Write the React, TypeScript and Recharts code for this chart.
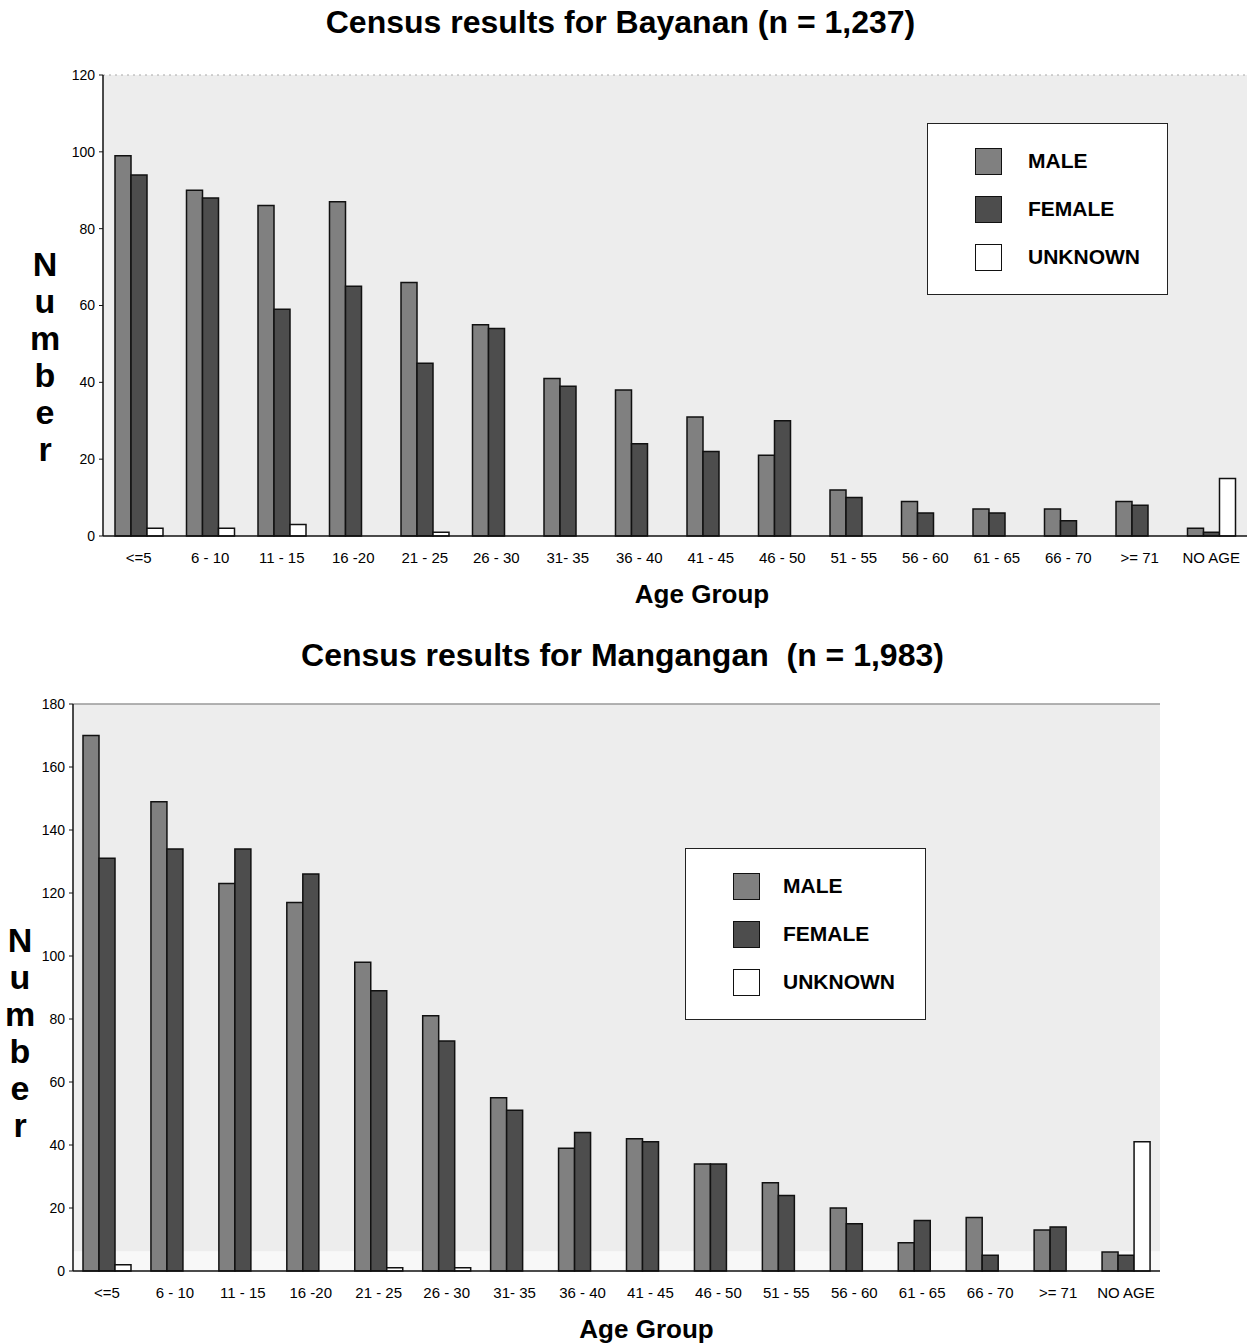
import React from "react";
import {
  BarChart,
  Bar,
  XAxis,
  YAxis,
  CartesianGrid,
  Legend,
  ReferenceLine,
  ReferenceArea,
} from "recharts";

// age groups, shared by both censuses
const ageGroups = [
  "<=5", "6 - 10", "11 - 15", "16 -20", "21 - 25", "26 - 30", "31- 35", "36 - 40",
  "41 - 45", "46 - 50", "51 - 55", "56 - 60", "61 - 65", "66 - 70", ">= 71", "NO AGE",
];

// Bayanan (n = 1,237)
const bayananMale = [99, 90, 86, 87, 66, 55, 41, 38, 31, 21, 12, 9, 7, 7, 9, 2];
const bayananFemale = [94, 88, 59, 65, 45, 54, 39, 24, 22, 30, 10, 6, 6, 4, 8, 1];
const bayananUnknown = [2, 2, 3, 0, 1, 0, 0, 0, 0, 0, 0, 0, 0, 0, 0, 15];
const bayananTicks = [0, 20, 40, 60, 80, 100, 120];

// Mangangan (n = 1,983)
const mangaganMale = [170, 149, 123, 117, 98, 81, 55, 39, 42, 34, 28, 20, 9, 17, 13, 6];
const mangaganFemale = [131, 134, 134, 126, 89, 73, 51, 44, 41, 34, 24, 15, 16, 5, 14, 5];
const mangaganUnknown = [2, 0, 0, 0, 1, 1, 0, 0, 0, 0, 0, 0, 0, 0, 0, 41];
const mangaganTicks = [0, 20, 40, 60, 80, 100, 120, 140, 160, 180];

const series = [
  { key: "male", name: "MALE", fill: "#808080" },
  { key: "female", name: "FEMALE", fill: "#4d4d4d" },
  { key: "unknown", name: "UNKNOWN", fill: "#ffffff" },
];

const FONT = "'Liberation Sans', Arial, sans-serif";

function buildRows(male: number[], female: number[], unknown: number[]) {
  return ageGroups.map((g, i) => ({ group: g, male: male[i], female: female[i], unknown: unknown[i] }));
}

function StackedLabel(props: any) {
  const { viewBox, dx, dy } = props;
  const letters = "Number".split("");
  const cx = viewBox.x + dx;
  const cy = viewBox.y + viewBox.height / 2 + dy;
  const step = 37;
  const start = cy - ((letters.length - 1) * step) / 2;
  return (
    <text textAnchor="middle" fontFamily={FONT} fontWeight="bold" fontSize={34} fill="#000">
      {letters.map((l, i) => (
        <tspan key={i} x={cx} y={start + i * step} dominantBaseline="central">
          {l}
        </tspan>
      ))}
    </text>
  );
}

function AxisTitle(props: any) {
  const { viewBox, dx, dy } = props;
  return (
    <text
      x={viewBox.x + viewBox.width / 2 + dx}
      y={viewBox.y + dy}
      textAnchor="middle"
      dominantBaseline="central"
      fontFamily={FONT}
      fontWeight="bold"
      fontSize={26}
      fill="#000"
    >
      Age Group
    </text>
  );
}

function LegendBox({ rowGap, textX }: { rowGap: number; textX: number }) {
  return (
    <div
      style={{
        background: "#fff",
        border: "1.5px solid #222",
        boxSizing: "border-box",
        paddingTop: 13,
        paddingBottom: 13,
        fontFamily: FONT,
      }}
    >
      {series.map((s) => (
        <div key={s.key} style={{ display: "flex", alignItems: "center", height: rowGap, position: "relative" }}>
          <div
            style={{
              position: "absolute",
              left: 47,
              width: 27,
              height: 27,
              background: s.fill,
              border: "1.5px solid #111",
              boxSizing: "border-box",
            }}
          />
          <span style={{ position: "absolute", left: textX, fontSize: 21, fontWeight: "bold", color: "#000" }}>
            {s.name}
          </span>
        </div>
      ))}
    </div>
  );
}

type CensusProps = {
  width: number;
  height: number;
  margin: { top: number; right: number; bottom: number; left: number };
  data: any[];
  ticks: number[];
  max: number;
  legendPos: { left: number; top: number };
  legendRowGap: number;
  legendTextX: number;
  numberDx: number;
  numberDy: number;
  titleDx: number;
  solidFrame: boolean;
  bottomBand?: number;
};

function CensusChart(p: CensusProps) {
  const frameStroke = p.solidFrame
    ? { stroke: "#999", strokeWidth: 1.5 }
    : { stroke: "#aaa", strokeWidth: 1.2, strokeDasharray: "2 4" };
  return (
    <BarChart width={p.width} height={p.height} data={p.data} margin={p.margin} barGap={0} barSize={16}>
      <CartesianGrid fill="#ededed" horizontal={false} vertical={false} />
      {p.bottomBand ? (
        <ReferenceArea yAxisId="left" y1={0} y2={p.bottomBand} fill="#f8f8f8" fillOpacity={1} stroke="none" />
      ) : null}
      <XAxis
        dataKey="group"
        tickLine={false}
        tickMargin={10}
        axisLine={{ stroke: "#111", strokeWidth: 1.5 }}
        tick={{ fontSize: 15, fill: "#000", fontFamily: FONT }}
        height={40}
        interval={0}
        label={{ content: (lp: any) => <AxisTitle {...lp} dx={p.titleDx} dy={58} /> }}
      />
      <YAxis
        yAxisId="left"
        domain={[0, p.max]}
        ticks={p.ticks}
        width={60}
        tickSize={4}
        tickMargin={4}
        axisLine={{ stroke: "#111", strokeWidth: 1.5 }}
        tickLine={{ stroke: "#111" }}
        tick={{ fontSize: 14, fill: "#000", fontFamily: FONT }}
        label={{ content: (lp: any) => <StackedLabel {...lp} dx={p.numberDx} dy={p.numberDy} /> }}
      />
      <YAxis
        yAxisId="frame"
        orientation="right"
        domain={[0, p.max]}
        width={0}
        tick={false}
        tickLine={false}
        axisLine={frameStroke}
      />
      <ReferenceLine yAxisId="left" y={p.max} {...frameStroke} />
      <Legend
        layout="vertical"
        align="center"
        verticalAlign="middle"
        wrapperStyle={{ left: p.legendPos.left, top: p.legendPos.top, width: 241 }}
        content={() => <LegendBox rowGap={p.legendRowGap} textX={p.legendTextX} />}
      />
      {series.map((s) => (
        <Bar
          key={s.key}
          yAxisId="left"
          dataKey={s.key}
          name={s.name}
          fill={s.fill}
          stroke="#111"
          strokeWidth={1.5}
          isAnimationActive={false}
        />
      ))}
    </BarChart>
  );
}

const titleStyle: React.CSSProperties = {
  position: "absolute",
  left: 0,
  width: 1251,
  textAlign: "center",
  fontFamily: FONT,
  fontWeight: "bold",
  fontSize: 32,
  color: "#000",
  lineHeight: "36px",
};

export default function App() {
  const bayanan = buildRows(bayananMale, bayananFemale, bayananUnknown);
  const mangangan = buildRows(mangaganMale, mangaganFemale, mangaganUnknown);
  return (
    <div style={{ position: "absolute", left: 0, top: 0, width: 1251, height: 1344, background: "#fff" }}>
      <div style={{ ...titleStyle, top: 4, left: -5 }}>Census results for Bayanan (n = 1,237)</div>
      <div style={{ position: "absolute", left: 0, top: 0 }}>
        <CensusChart
          width={1251}
          height={620}
          margin={{ top: 75, right: 4, bottom: 44, left: 43 }}
          data={bayanan}
          ticks={bayananTicks}
          max={120}
          legendPos={{ left: 927, top: 123 }}
          legendRowGap={48}
          legendTextX={100}
          numberDx={2}
          numberDy={51}
          titleDx={27}
          solidFrame={false}
        />
      </div>
      <div style={{ ...titleStyle, top: 637, left: -3 }}>Census results for Mangangan&nbsp;&nbsp;(n = 1,983)</div>
      <div style={{ position: "absolute", left: 0, top: 620 }}>
        <CensusChart
          width={1251}
          height={724}
          margin={{ top: 84, right: 91, bottom: 33, left: 13 }}
          data={mangangan}
          ticks={mangaganTicks}
          max={180}
          legendPos={{ left: 685, top: 228 }}
          legendRowGap={48}
          legendTextX={97}
          numberDx={7}
          numberDy={45}
          titleDx={30}
          solidFrame={true}
          bottomBand={6.3}
        />
      </div>
    </div>
  );
}
